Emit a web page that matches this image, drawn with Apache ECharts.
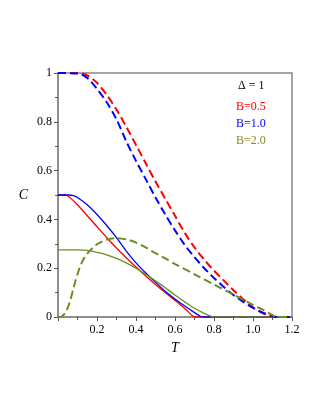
<!DOCTYPE html>
<html><head><meta charset="utf-8">
<script src="https://cdn.jsdelivr.net/npm/echarts@6/dist/echarts.min.js"></script>
<style>html,body{margin:0;padding:0;background:#fff}#c{width:323px;height:418px}</style>
</head><body><div id="c"></div>
<script>
// Data (T, C)
const T_red_dash = [0,0.1,0.15,0.2,0.25,0.3,0.35,0.4,0.45,0.5,0.55,0.6,0.65,0.7,0.75,0.8,0.85,0.9,0.95,1.0,1.05,1.1,1.12,1.2];
const C_red_dash = [1,1.0,0.99,0.96,0.91,0.85,0.78,0.705,0.63,0.555,0.485,0.415,0.345,0.285,0.235,0.19,0.15,0.11,0.073,0.04,0.015,0.002,0,0];
const T_blue_dash = [0,0.1,0.15,0.2,0.25,0.3,0.35,0.4,0.45,0.5,0.55,0.6,0.65,0.7,0.75,0.8,0.85,0.9,0.95,1.0,1.05,1.1,1.12,1.2];
const C_blue_dash = [1,0.998,0.98,0.935,0.88,0.81,0.72,0.64,0.565,0.49,0.42,0.355,0.295,0.245,0.2,0.16,0.123,0.09,0.062,0.037,0.018,0.004,0,0];
const T_olive_dash = [0,0.02,0.04,0.06,0.08,0.1,0.12,0.15,0.2,0.25,0.3,0.35,0.4,0.45,0.5,0.55,0.6,0.7,0.8,0.9,1.0,1.05,1.1,1.12,1.2];
const C_olive_dash = [0,0.003,0.02,0.06,0.12,0.175,0.22,0.26,0.298,0.317,0.323,0.318,0.305,0.285,0.262,0.24,0.217,0.175,0.133,0.092,0.05,0.03,0.008,0,0];
const T_red_solid = [0,0.03,0.05,0.1,0.15,0.2,0.25,0.3,0.35,0.4,0.45,0.5,0.55,0.6,0.65,0.69,0.7,1.2];
const C_red_solid = [0.5,0.5,0.497,0.46,0.415,0.37,0.325,0.283,0.243,0.205,0.168,0.133,0.1,0.068,0.035,0.005,0,0];
const T_blue_solid = [0,0.05,0.08,0.1,0.15,0.2,0.25,0.3,0.35,0.4,0.45,0.5,0.55,0.6,0.65,0.7,0.73,0.74,1.2];
const C_blue_solid = [0.5,0.5,0.497,0.49,0.46,0.42,0.375,0.325,0.27,0.222,0.18,0.142,0.106,0.074,0.045,0.018,0.003,0,0];
const T_olive_solid = [0,0.1,0.15,0.2,0.25,0.3,0.35,0.4,0.45,0.5,0.55,0.6,0.65,0.7,0.75,0.79,0.8,1.2];
const C_olive_solid = [0.275,0.275,0.273,0.265,0.255,0.24,0.222,0.2,0.175,0.148,0.12,0.09,0.062,0.036,0.015,0.002,0,0];
const xTicks = ['0.2','0.4','0.6','0.8','1.0','1.2'];
const yTicks = ['0','0.2','0.4','0.6','0.8','1'];
const legendTexts = ['Δ = 1','B=0.5','B=1.0','B=2.0'];

const RED='#ff0000', BLUE='#0000ff', OLIVE='#6b8e23', OLIVE_TXT='#8c8c1e';
const zip=(a,b)=>a.map((t,i)=>[t,b[i]]);
const FONT='Liberation Serif';
const chart = echarts.init(document.getElementById('c'));
function line(T,C,color,dashed){
  return {type:'line',data:zip(T,C),showSymbol:false,smooth:0.3,
    lineStyle:{color:color,width:dashed?2:1.3,type:dashed?[8,4]:'solid'},z:dashed?3:2};
}
chart.setOption({
  animation:false,
  grid:{left:58,top:73,right:31,bottom:101,show:true,borderColor:'#888',borderWidth:1.5},
  xAxis:{type:'value',min:0,max:1.2,interval:0.2,
    axisLine:{show:true,lineStyle:{color:'#888',width:1.5}},
    axisTick:{show:true,length:4,lineStyle:{color:'#555'}},
    minorTick:{show:true,splitNumber:2,length:3,lineStyle:{color:'#555'}},
    splitLine:{show:false},
    axisLabel:{color:'#000',fontFamily:FONT,fontSize:12,margin:7,
      formatter:v=>{const i=Math.round(v/0.2)-1;return i>=0?xTicks[i]:'';}},
    name:'T',nameLocation:'middle',nameGap:21,
    nameTextStyle:{fontFamily:FONT,fontStyle:'italic',fontSize:14,color:'#000'}},
  yAxis:{type:'value',min:0,max:1,interval:0.2,
    axisLine:{show:true,lineStyle:{color:'#888',width:1.5}},
    axisTick:{show:true,length:4,lineStyle:{color:'#555'}},
    minorTick:{show:true,splitNumber:2,length:3,lineStyle:{color:'#555'}},
    splitLine:{show:false},
    axisLabel:{color:'#000',fontFamily:FONT,fontSize:12,margin:6,
      formatter:v=>yTicks[Math.round(v/0.2)]},
    name:'C',nameLocation:'middle',nameGap:30,nameRotate:0,
    nameTextStyle:{fontFamily:FONT,fontStyle:'italic',fontSize:14,color:'#000'}},
  graphic:[
    {type:'text',left:238,top:80,style:{text:legendTexts[0],fill:'#000',font:'12px "Liberation Serif"'}},
    {type:'text',left:236,top:101,style:{text:legendTexts[1],fill:RED,font:'12px "Liberation Serif"'}},
    {type:'text',left:236,top:118,style:{text:legendTexts[2],fill:BLUE,font:'12px "Liberation Serif"'}},
    {type:'text',left:236,top:135,style:{text:legendTexts[3],fill:OLIVE_TXT,font:'12px "Liberation Serif"'}}
  ],
  series:[
    line(T_red_solid,C_red_solid,RED,false),
    line(T_blue_solid,C_blue_solid,BLUE,false),
    line(T_olive_solid,C_olive_solid,OLIVE,false),
    line(T_red_dash,C_red_dash,RED,true),
    line(T_blue_dash,C_blue_dash,BLUE,true),
    line(T_olive_dash,C_olive_dash,OLIVE,true)
  ]
});
</script></body></html>
